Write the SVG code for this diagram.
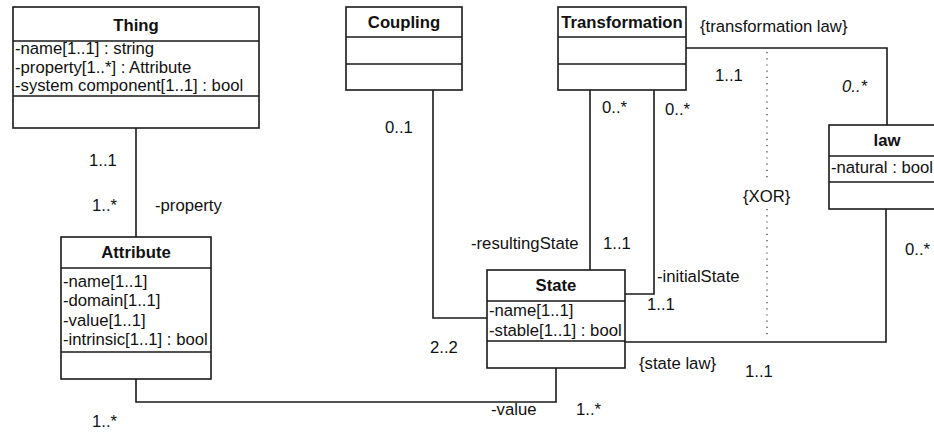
<svg xmlns="http://www.w3.org/2000/svg" width="934" height="432" viewBox="0 0 934 432">
  <style>
    .box { fill: #ffffff; stroke: #1a1a1a; stroke-width: 1.6; }
    .sep { stroke: #1a1a1a; stroke-width: 1.6; fill: none; }
    .edge { stroke: #1a1a1a; stroke-width: 1.6; fill: none; }
    .dots { stroke: #333333; stroke-width: 1.2; fill: none; stroke-dasharray: 1.2 5; }
    text { font-family: "Liberation Sans", Arial, sans-serif; font-size: 16.7px; fill: #111111; }
    .title { font-weight: bold; text-anchor: middle; }
    .it { font-style: italic; }
  </style>

  <rect width="934" height="432" fill="#ffffff"/>

  <!-- connectors -->
  <g id="connectors">
    <!-- Thing - Attribute -->
    <path class="edge" d="M136,128 V237"/>
    <!-- Attribute - State (value) -->
    <path class="edge" d="M136,379 V402 H556 V368"/>
    <!-- Coupling - State -->
    <path class="edge" d="M433,90 V318 H487"/>
    <!-- Transformation - State (resultingState) -->
    <path class="edge" d="M590,90 V270"/>
    <!-- Transformation - State (initialState) -->
    <path class="edge" d="M654,90 V294 H625"/>
    <!-- Transformation - law -->
    <path class="edge" d="M686,48 H887 V125"/>
    <!-- State - law -->
    <path class="edge" d="M625,342 H886 V209"/>
    <!-- XOR constraint -->
    <path class="dots" d="M767,52 V182"/>
    <path class="dots" d="M767,209 V337"/>

    <text x="89" y="166">1..1</text>
    <text x="92" y="211">1..*</text>
    <text x="155" y="211">-property</text>
    <text x="92" y="427">1..*</text>
    <text x="385" y="133">0..1</text>
    <text x="602" y="113">0..*</text>
    <text x="665" y="115">0..*</text>
    <text x="700" y="32">{transformation law}</text>
    <text x="715" y="81">1..1</text>
    <text class="it" x="842" y="92">0..*</text>
    <text x="743" y="202">{XOR}</text>
    <text x="905" y="255">0..*</text>
    <text x="471" y="249">-resultingState</text>
    <text x="603" y="249">1..1</text>
    <text x="657" y="282">-initialState</text>
    <text x="647" y="310">1..1</text>
    <text x="430" y="353">2..2</text>
    <text x="639" y="369">{state law}</text>
    <text x="745" y="377">1..1</text>
    <text x="491" y="415">-value</text>
    <text x="576" y="415">1..*</text>
  </g>

  <!-- Thing -->
  <g id="thing">
    <rect class="box" x="13" y="7" width="246" height="121"/>
    <path class="sep" d="M13,41 H259 M13,96 H259"/>
    <text class="title" x="136" y="31">Thing</text>
    <text x="15" y="54">-name[1..1] : string</text>
    <text x="15" y="73">-property[1..*] : Attribute</text>
    <text x="15" y="91">-system component[1..1] : bool</text>
  </g>

  <!-- Attribute -->
  <g id="attribute">
    <rect class="box" x="61" y="237" width="150" height="142"/>
    <path class="sep" d="M61,268 H211 M61,352 H211"/>
    <text class="title" x="136" y="258">Attribute</text>
    <text x="63" y="287">-name[1..1]</text>
    <text x="63" y="306">-domain[1..1]</text>
    <text x="63" y="326">-value[1..1]</text>
    <text x="63" y="345">-intrinsic[1..1] : bool</text>
  </g>

  <!-- Coupling -->
  <g id="coupling">
    <rect class="box" x="346" y="7" width="116" height="83"/>
    <path class="sep" d="M346,37 H462 M346,64 H462"/>
    <text class="title" x="404" y="28">Coupling</text>
  </g>

  <!-- Transformation -->
  <g id="transformation">
    <rect class="box" x="558" y="7" width="128" height="83"/>
    <path class="sep" d="M558,37 H686 M558,64 H686"/>
    <text class="title" x="622" y="28">Transformation</text>
  </g>

  <!-- State -->
  <g id="state">
    <rect class="box" x="487" y="270" width="138" height="98"/>
    <path class="sep" d="M487,301 H625 M487,341 H625"/>
    <text class="title" x="556" y="291">State</text>
    <text x="489" y="316">-name[1..1]</text>
    <text x="489" y="336">-stable[1..1] : bool</text>
  </g>

  <!-- law -->
  <g id="law">
    <rect class="box" x="829" y="125" width="116" height="84"/>
    <path class="sep" d="M829,156 H945 M829,182 H945"/>
    <text class="title" x="887" y="146">law</text>
    <text x="831" y="173">-natural : bool</text>
  </g>
</svg>
